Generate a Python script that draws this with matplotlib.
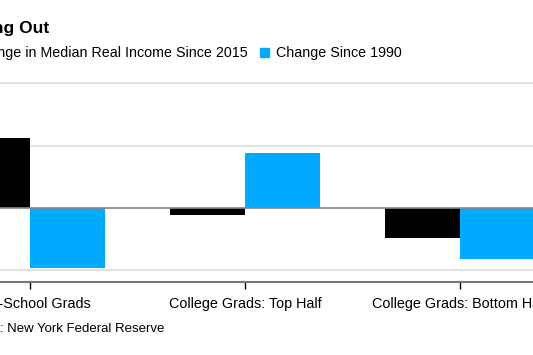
import matplotlib.pyplot as plt
from matplotlib.patches import Rectangle

plt.rcParams['font.family'] = ['Liberation Sans', 'DejaVu Sans']

groups = ["High-School Grads", "College Grads: Top Half", "College Grads: Bottom Half"]
since_2015 = [11.2, -1.1, -4.9]
since_1990 = [-9.7, 8.9, -8.2]
yticks = [-10, 0, 10, 20]

W, H = 533, 355
fig = plt.figure(figsize=(W / 100, H / 100), dpi=100)

# axes run past both figure edges (the reference is a crop)
px_unit = 215.0
x0_px = 30.0
xmin, xmax = -0.6, 2.6
left_px = x0_px + xmin * px_unit
right_px = x0_px + xmax * px_unit
ymin, ymax = -11.93, 20.3
top_px, bot_px = 83.5 - 0.3 * 6.22, 282.0
ax = fig.add_axes([left_px / W, 1 - bot_px / H,
                   (right_px - left_px) / W, (bot_px - top_px) / H])

w = 75 / px_unit
xs = range(len(groups))
ax.bar([x - w / 2 for x in xs], since_2015, w, color='black', zorder=3)
ax.bar([x + w / 2 for x in xs], since_1990, w, color='#00aaff', zorder=3)

ax.set_xlim(xmin, xmax)
ax.set_ylim(ymin, ymax)
ax.set_yticks(yticks)
ax.yaxis.grid(True, color='#dddddd', linewidth=1.2, zorder=0)
ax.tick_params(axis='y', length=0, labelleft=False)
ax.axhline(0, color='#888888', linewidth=1.2, zorder=4)

ax.set_xticks(list(xs))
ax.set_xticklabels(groups, fontsize=10.4)
ax.tick_params(axis='x', length=5, width=1, color='black', pad=5.5)

for s in ['top', 'left', 'right']:
    ax.spines[s].set_visible(False)
ax.spines['bottom'].set_color('#777777')
ax.spines['bottom'].set_linewidth(1.5)

fig.text(49 / W, 1 - 32.5 / H, "Falling Out", ha='right', va='baseline',
         fontsize=12.5, fontweight='bold')

fig.text(248 / W, 1 - 56.5 / H, "Change in Median Real Income Since 2015",
         ha='right', va='baseline', fontsize=10.3)
fig.patches.append(Rectangle(((248 - 262 - 12) / W, 1 - 57 / H), 9 / W, 9 / H,
                             transform=fig.transFigure, color='black'))
fig.patches.append(Rectangle((260 / W, 1 - 57 / H), 9 / W, 9 / H,
                             transform=fig.transFigure, color='#00aaff'))
fig.text(276 / W, 1 - 56.5 / H, "Change Since 1990", ha='left', va='baseline',
         fontsize=10.3)

fig.text(164 / W, 1 - 332.5 / H, "Source: New York Federal Reserve",
         ha='right', va='baseline', fontsize=9.5)

fig.savefig('out.png', dpi=100)
